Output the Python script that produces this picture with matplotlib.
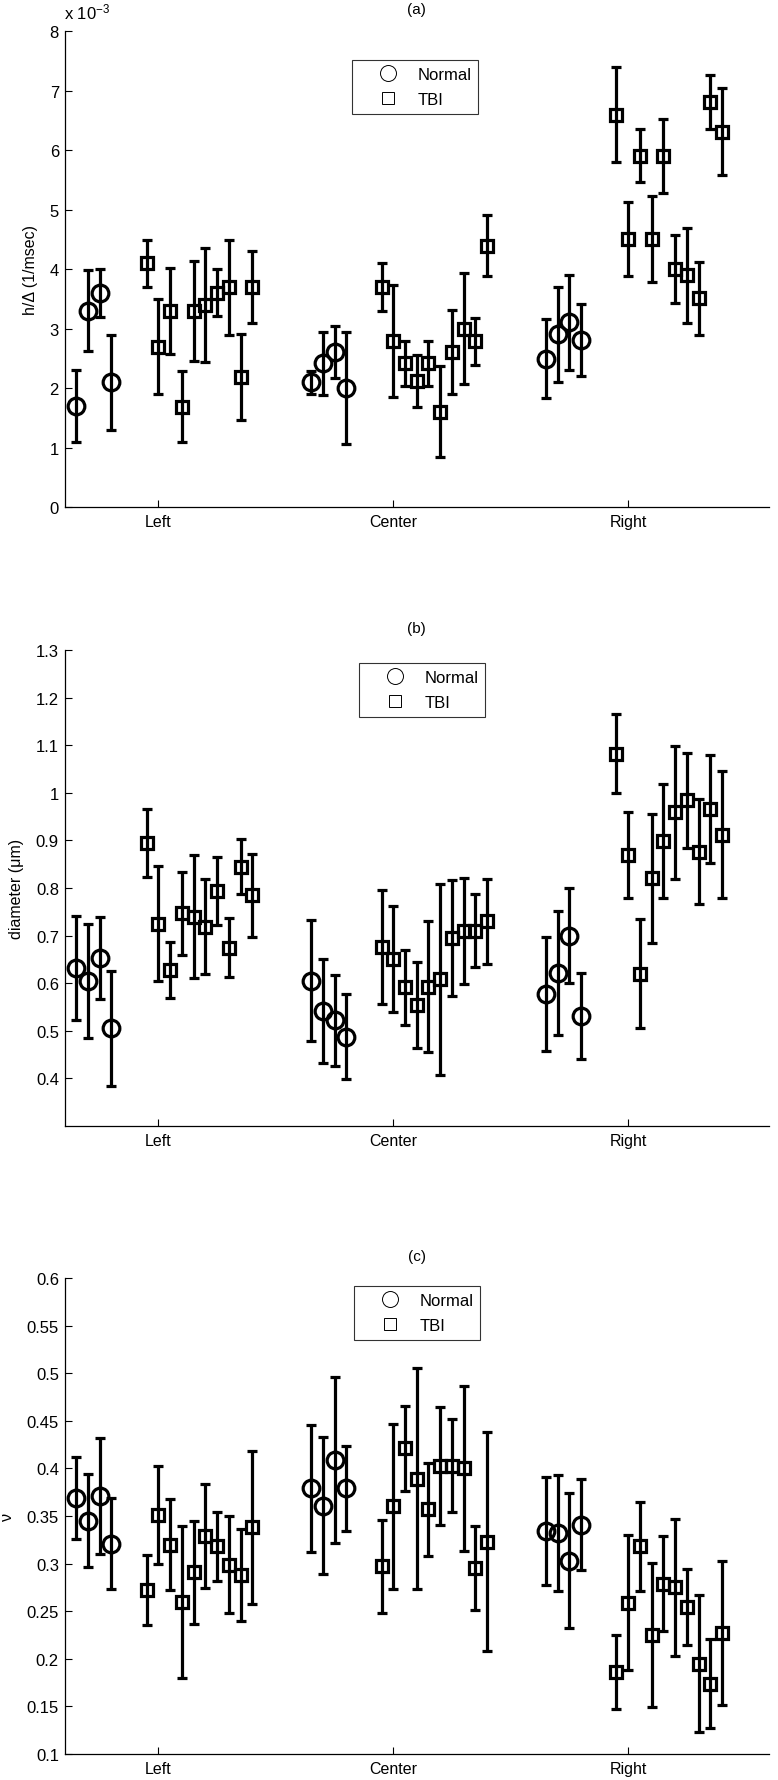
import numpy as np
import matplotlib
matplotlib.use("Agg")
import matplotlib.pyplot as plt
from matplotlib.lines import Line2D
from matplotlib.ticker import FormatStrFormatter

plt.rcParams['font.family'] = ['Liberation Sans', 'DejaVu Sans']
plt.rcParams['mathtext.default'] = 'regular'

categories = ['Left', 'Center', 'Right']

# (a) h/Delta, in units of 1e-3 (1/msec); 4 normal + 10 TBI per location
a_normal_mean = [1.7, 3.3, 3.6, 2.1,   2.1, 2.42, 2.61, 2.0,   2.5, 2.91, 3.11, 2.81]
a_normal_err = [0.6, 0.68, 0.4, 0.8,   0.19, 0.53, 0.43, 0.94,   0.66, 0.8, 0.8, 0.61]
a_tbi_mean = [4.1, 2.7, 3.3, 1.69, 3.3, 3.4, 3.61, 3.7, 2.19, 3.7,
              3.7, 2.79, 2.42, 2.12, 2.42, 1.61, 2.61, 3.0, 2.79, 4.4,
              6.6, 4.51, 5.91, 4.51, 5.91, 4.01, 3.9, 3.51, 6.81, 6.31]
a_tbi_err = [0.4, 0.8, 0.73, 0.6, 0.84, 0.95, 0.4, 0.8, 0.73, 0.61,
             0.4, 0.94, 0.38, 0.44, 0.38, 0.77, 0.7, 0.93, 0.39, 0.52,
             0.8, 0.62, 0.44, 0.73, 0.62, 0.57, 0.8, 0.62, 0.45, 0.73]

# (b) diameter (um)
b_normal_mean = [0.632, 0.605, 0.653, 0.505,   0.605, 0.541, 0.522, 0.488,   0.578, 0.621, 0.70, 0.531]
b_normal_err = [0.11, 0.12, 0.087, 0.12,   0.127, 0.109, 0.096, 0.089,   0.12, 0.13, 0.1, 0.09]
b_tbi_mean = [0.895, 0.725, 0.627, 0.747, 0.740, 0.719, 0.794, 0.674, 0.845, 0.785,
              0.676, 0.651, 0.591, 0.554, 0.593, 0.608, 0.695, 0.71, 0.71, 0.73,
              1.0825, 0.869, 0.62, 0.82, 0.899, 0.959, 0.984, 0.876, 0.966, 0.912]
b_tbi_err = [0.071, 0.121, 0.059, 0.087, 0.13, 0.10, 0.071, 0.062, 0.057, 0.087,
             0.12, 0.111, 0.078, 0.09, 0.137, 0.2, 0.122, 0.112, 0.077, 0.089,
             0.082, 0.09, 0.114, 0.135, 0.12, 0.14, 0.1, 0.11, 0.114, 0.134]

# (c) nu
c_normal_mean = [0.369, 0.345, 0.371, 0.321,   0.379, 0.361, 0.409, 0.379,   0.334, 0.332, 0.303, 0.341]
c_normal_err = [0.043, 0.049, 0.061, 0.048,   0.067, 0.072, 0.087, 0.045,   0.057, 0.061, 0.071, 0.048]
c_tbi_mean = [0.272, 0.351, 0.320, 0.260, 0.291, 0.329, 0.318, 0.299, 0.288, 0.338,
              0.297, 0.360, 0.421, 0.389, 0.357, 0.403, 0.403, 0.400, 0.295, 0.323,
              0.186, 0.259, 0.318, 0.225, 0.279, 0.275, 0.254, 0.195, 0.174, 0.227]
c_tbi_err = [0.037, 0.051, 0.048, 0.08, 0.054, 0.055, 0.036, 0.051, 0.048, 0.08,
             0.049, 0.087, 0.045, 0.116, 0.049, 0.062, 0.049, 0.087, 0.044, 0.115,
             0.039, 0.071, 0.047, 0.076, 0.05, 0.072, 0.04, 0.072, 0.047, 0.076]

W, H = 778, 1781
fig = plt.figure(figsize=(W / 100, H / 100), dpi=100)

# x positions: normal subjects left of the tick, TBI subjects around/right of it
cat_x = np.arange(1, len(categories) + 1)
x_normal = np.concatenate([c - 0.35 + 0.05 * np.arange(4) for c in cat_x])
x_tbi = np.concatenate([c - 0.05 + 0.05 * np.arange(10) for c in cat_x])

panels = [
    ('(a)', a_normal_mean, a_normal_err, a_tbi_mean, a_tbi_err, 'h/Δ (1/msec)',
     (0, 8), np.arange(0, 9, 1), 32.3, 61.3, -0.037),
    ('(b)', b_normal_mean, b_normal_err, b_tbi_mean, b_tbi_err, 'diameter (μm)',
     (0.3, 1.3), np.arange(0.4, 1.31, 0.1), 651.0, 664.3, -0.058),
    ('(c)', c_normal_mean, c_normal_err, c_tbi_mean, c_tbi_err, 'ν',
     (0.1, 0.6), np.arange(0.1, 0.61, 0.05), 1279.0, 1287.3, -0.070),
]
leg_left = [352.3, 359.3, 354.3]

ax_left, ax_right, ax_h = 64.5, 769.0, 476.0
for i, (title, nm, ne, tm, te, ylab, ylim, yticks, top, legtop, labx) in enumerate(panels):
    ax = fig.add_axes([ax_left / W, 1 - (top + ax_h) / H, (ax_right - ax_left) / W, ax_h / H])
    style = dict(color='k', ecolor='k', mfc='none', mec='k', mew=2.3,
                 elinewidth=2.3, capsize=3.6, capthick=2.3, linestyle='none')
    ax.errorbar(x_normal, nm, yerr=ne, marker='o', ms=12, **style)
    ax.errorbar(x_tbi, tm, yerr=te, marker='s', ms=8, **style)

    ax.set_xlim(0.6, 3.6)
    ax.set_ylim(*ylim)
    ax.set_xticks(cat_x)
    ax.set_xticklabels(categories)
    ax.set_yticks(yticks)
    ax.yaxis.set_major_formatter(FormatStrFormatter('%g'))
    ax.tick_params(direction='in', length=4.8, width=0.8)
    ax.tick_params(axis='y', labelsize=12, pad=4)
    ax.tick_params(axis='x', labelsize=11.5, pad=5)
    for s in ['top', 'right']:
        ax.spines[s].set_visible(False)
    for s in ['left', 'bottom']:
        ax.spines[s].set_linewidth(0.9)
    ax.set_title(title, fontsize=11, pad=13)
    ax.set_ylabel(ylab, fontsize=11.5)
    ax.yaxis.set_label_coords(labx, 0.5)

    handles = [Line2D([], [], marker='o', ls='none', mfc='none', mec='k', mew=0.7, ms=11.5),
               Line2D([], [], marker='s', ls='none', mfc='none', mec='k', mew=0.7, ms=8.5)]
    leg = ax.legend(handles, ['Normal', 'TBI'], loc='upper left',
                    bbox_to_anchor=(leg_left[i] / W, 1 - legtop / H),
                    bbox_transform=fig.transFigure, borderaxespad=0,
                    fancybox=False, fontsize=12, borderpad=0.4, labelspacing=0.6,
                    handlelength=3.5, handletextpad=0.0)
    leg.get_frame().set_edgecolor('k')
    leg.get_frame().set_linewidth(0.8)

    if i == 0:
        ax.text(0, 1 + 10 / ax_h, r'x 10$^{-3}$', transform=ax.transAxes,
                ha='left', va='bottom', fontsize=12)

fig.savefig('out.png', dpi=100)
